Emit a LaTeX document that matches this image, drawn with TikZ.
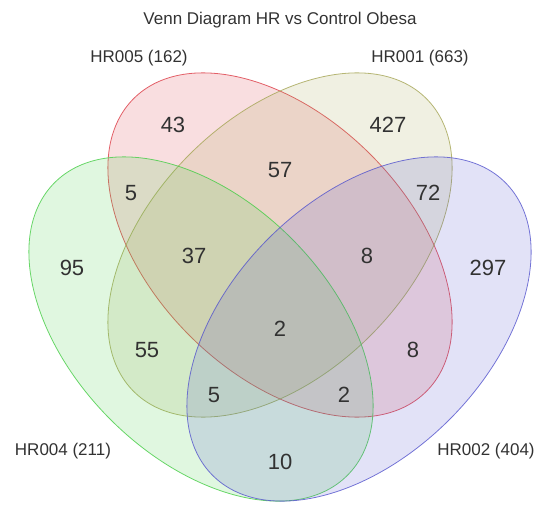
\documentclass[tikz,border=0pt]{standalone}
\usepackage{fontspec}
\setmainfont{Liberation Sans}
\definecolor{setred}{RGB}{220,60,70}
\definecolor{setolive}{RGB}{165,165,85}
\definecolor{setgreen}{RGB}{70,205,70}
\definecolor{setblue}{RGB}{85,85,205}
\definecolor{txt}{RGB}{50,50,50}
\tikzset{
  venn/.style={line width=0.8pt, fill opacity=0.17, draw opacity=0.8},
  num/.style={text=txt, font=\fontsize{22}{25}\selectfont, inner sep=0pt},
  setname/.style={text=txt, font=\fontsize{17}{20}\selectfont, inner sep=0pt}
}
\begin{document}
\begin{tikzpicture}[x=1pt, y=1pt]
        \useasboundingbox (0,0) rectangle (548,504);

        \coordinate (cmid) at (280, 259);
        \coordinate (cleft) at (201, 175);
        \coordinate (cright) at (359, 175);

        \draw [venn, draw=setred, fill=setred, rotate around={-45:(cmid)}] (cmid) ellipse (207 and 128);
        \draw [venn, draw=setolive, fill=setolive, rotate around={45:(cmid)}] (cmid) ellipse (207 and 128);
        \draw [venn, draw=setgreen, fill=setgreen, rotate around={-45:(cleft)}] (cleft) ellipse (207 and 128);
        \draw [venn, draw=setblue, fill=setblue, rotate around={45:(cright)}] (cright) ellipse (207 and 128);

        \node [setname] (title) at (280, 484) {Venn Diagram HR vs Control Obesa};
        \node [setname] (HR005) at (139, 446) {HR005 (162)};
        \node [setname] (HR001) at (420, 446) {HR001 (663)};
        \node [setname] (HR004) at (63, 53) {HR004 (211)};
        \node [setname] (HR002) at (486, 53) {HR002 (404)};

        \node [num] (n43) at (173, 379) {43};
        \node [num] (n427) at (388, 379) {427};
        \node [num] (n57) at (280, 334) {57};
        \node [num] (n5a) at (131, 311) {5};
        \node [num] (n72) at (428, 311) {72};
        \node [num] (n37) at (194, 248) {37};
        \node [num] (n8a) at (367, 248) {8};
        \node [num] (n95) at (72, 236) {95};
        \node [num] (n297) at (488, 236) {297};
        \node [num] (n2a) at (280, 175) {2};
        \node [num] (n55) at (147, 154) {55};
        \node [num] (n8b) at (413, 154) {8};
        \node [num] (n5b) at (214, 109) {5};
        \node [num] (n2b) at (344, 109) {2};
        \node [num] (n10) at (280, 42) {10};
    \end{tikzpicture}
\end{document}
